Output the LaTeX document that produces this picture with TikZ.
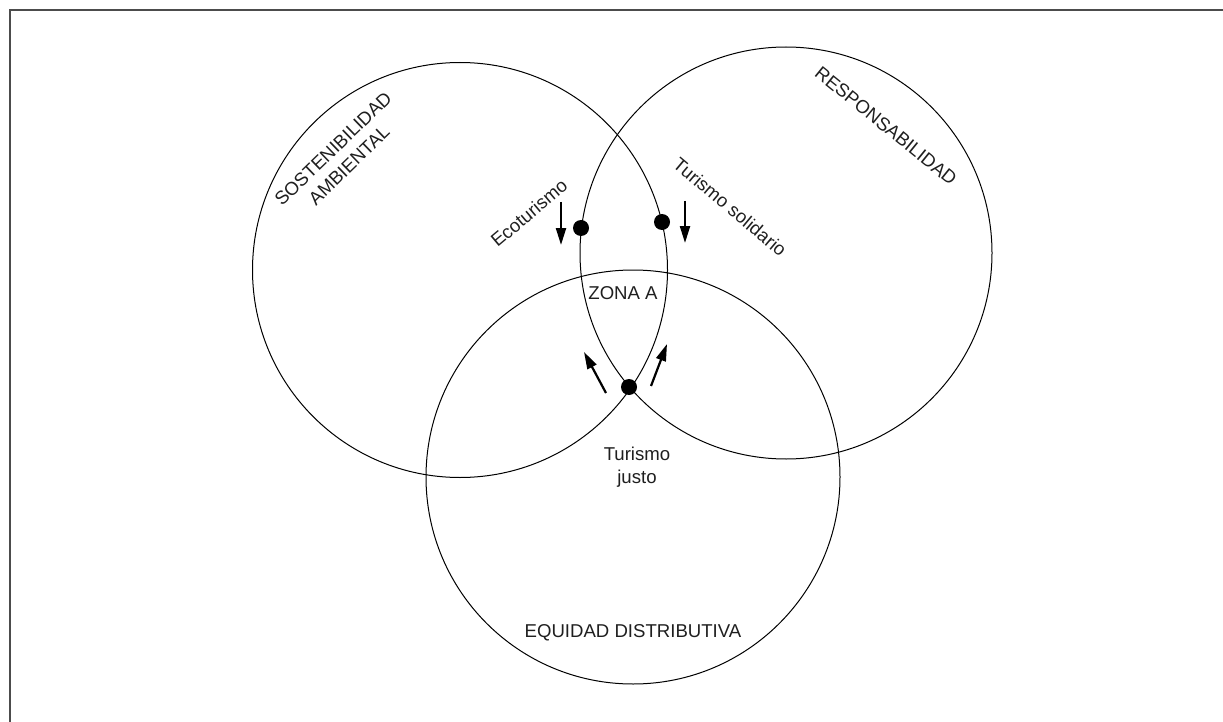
\documentclass[tikz,border=0pt]{standalone}
\usepackage{fontspec}
\setmainfont{Liberation Sans}
\usetikzlibrary{positioning, arrows.meta}

\begin{document}
\begin{tikzpicture}[x=1pt, y=-1pt,
    set/.style = {circle, draw, line width=1pt, minimum size=#1, inner sep=0pt},
    dot/.style = {circle, fill, minimum size=16pt, inner sep=0pt},
    lbl/.style = {font=\fontsize{18.6}{23}\selectfont, align=center, text=black!88},
    arr/.style = {-{Triangle[length=17pt, width=10pt]}, line width=2.2pt}]
    \useasboundingbox (0,0) rectangle (1223,722);
    \draw[line width=2pt, black!70] (10,722) -- (10,10) -- (1223,10);

    \node[set=415] (amb) at (460,270) {};
    \node[set=412] (resp) at (786,253) {};
    \node[set=414] (equi) at (633,477) {};

    \node[dot] (eco) at (581,228) {};
    \node[dot] (soli) at (662,222) {};
    \node[dot] (justo) at (629,387) {};

    \draw[arr] ([shift={(-20,-26)}]eco.center) -- ++(0,43);
    \draw[arr] ([shift={(23,-21)}]soli.center) -- ++(0,42);
    \draw[arr] ([shift={(-23,6)}]justo.center) -- ++(-22,-41);
    \draw[arr] ([shift={(22,-1)}]justo.center) -- ++(16,-42);

    \node[lbl, rotate=44] (ambText) at (341,157) {SOSTENIBILIDAD\\AMBIENTAL};
    \node[lbl, rotate=-39] (respText) at (886,126) {RESPONSABILIDAD};
    \node[lbl, rotate=40] (ecoText) at (529,213) {Ecoturismo};
    \node[lbl, rotate=-40] (soliText) at (730,207) {Turismo solidario};
    \node[lbl] (zona) at (623,293) {ZONA A};
    \node[lbl] (justoText) at (637,467) {Turismo\\justo};
    \node[lbl] (equiText) at (633,633) {EQUIDAD DISTRIBUTIVA};
\end{tikzpicture}
\end{document}
